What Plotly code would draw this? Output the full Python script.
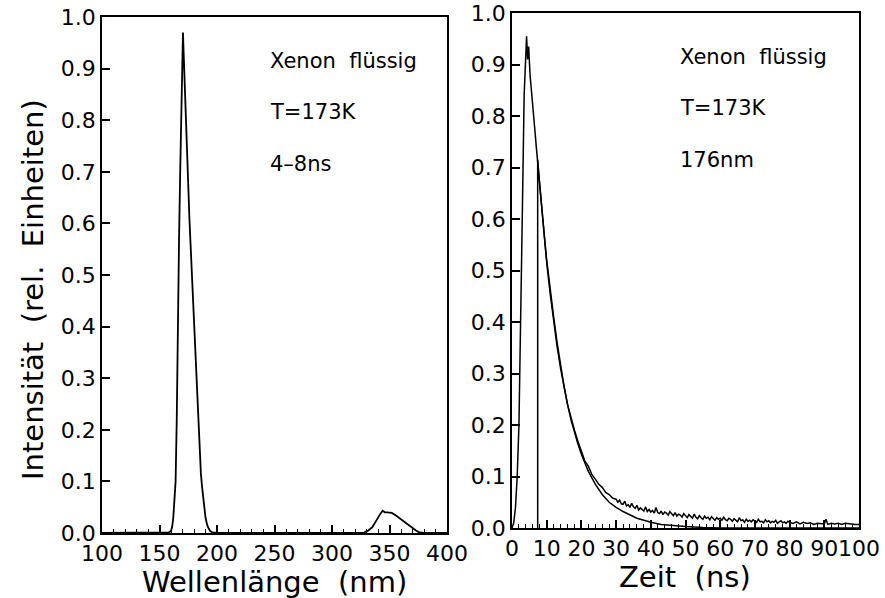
import plotly.graph_objects as go

# ---------------- data: left panel (spectrum) ----------------
wavelength = [100, 130, 155, 158, 160, 161, 162, 163, 164, 165, 166, 167, 168, 169, 170, 170.4,
              171, 172, 173, 174, 175, 176, 177, 178, 179, 180, 181, 182, 183, 184, 185, 186,
              187, 188, 189, 190, 191, 192, 194, 196, 200, 250, 300, 320, 327, 331, 335, 338,
              340, 342, 344, 345, 346, 348, 350, 352, 355, 358, 361, 364, 367, 370, 373, 376,
              380, 400]
spectrum = [0.0, 0.0, 0.0, 0.001, 0.004, 0.012, 0.03, 0.06, 0.10, 0.22, 0.43, 0.57, 0.70, 0.82, 0.95, 0.97,
            0.93, 0.86, 0.80, 0.74, 0.67, 0.61, 0.56, 0.51, 0.455, 0.40, 0.34, 0.29, 0.235, 0.19, 0.15, 0.115,
            0.09, 0.065, 0.045, 0.03, 0.02, 0.012, 0.004, 0.001, 0.0, 0.0, 0.0, 0.0, 0.0, 0.004, 0.011, 0.022,
            0.031, 0.037, 0.043, 0.042, 0.040, 0.040, 0.040, 0.039, 0.035, 0.030, 0.025, 0.019, 0.014, 0.009, 0.005, 0.001,
            0.0, 0.0]

# ---------------- data: right panel (decay) ----------------
time_data = [0, 0.5, 1, 1.5, 2, 2.5, 3, 3.5, 4, 4.2, 4.5, 4.8, 5.2, 5.5, 6, 6.5, 7, 7.5, 8, 8.5, 9, 9.5,
             10, 11, 12, 13, 14, 15, 16, 17, 18, 19, 20, 21, 22, 23, 24, 25, 26, 27, 28, 29,
             30, 30.5, 31, 31.5, 32, 32.5, 33, 33.5, 34, 34.5, 35, 35.5, 36, 36.5, 37, 37.5, 38, 38.5, 39, 39.5,
             40, 40.5, 41, 41.5, 42, 42.5, 43, 43.5, 44, 44.5, 45, 45.5, 46, 46.5, 47, 47.5, 48, 48.5, 49, 49.5,
             50, 50.5, 51, 51.5, 52, 52.5, 53, 53.5, 54, 54.5, 55, 55.5, 56, 56.5, 57, 57.5, 58, 58.5, 59, 59.5,
             60, 60.5, 61, 61.5, 62, 62.5, 63, 63.5, 64, 64.5, 65, 65.5, 66, 66.5, 67, 67.5, 68, 68.5, 69, 69.5,
             70, 70.5, 71, 71.5, 72, 72.5, 73, 73.5, 74, 74.5, 75, 75.5, 76, 76.5, 77, 77.5, 78, 78.5, 79, 79.5,
             80, 81, 82, 83, 84, 85, 86, 87, 88, 89, 90, 90.5, 91, 92, 93, 94, 95, 96, 97, 98, 99, 100]
counts = [0.0, 0.01, 0.04, 0.10, 0.20, 0.38, 0.62, 0.84, 0.92, 0.955, 0.91, 0.935, 0.88, 0.86, 0.82, 0.78, 0.74, 0.70, 0.66, 0.625, 0.59, 0.555,
          0.52, 0.46, 0.41, 0.36, 0.315, 0.275, 0.24, 0.212, 0.19, 0.168, 0.148, 0.13, 0.12, 0.104, 0.095, 0.085, 0.079, 0.069, 0.065, 0.058,
          0.056, 0.050, 0.054, 0.047, 0.046, 0.052, 0.043, 0.045, 0.040, 0.048, 0.041, 0.038, 0.044, 0.035, 0.039, 0.036, 0.033, 0.041, 0.032, 0.036,
          0.031, 0.034, 0.029, 0.040, 0.030, 0.028, 0.033, 0.026, 0.031, 0.029, 0.025, 0.032, 0.027, 0.024, 0.030, 0.023, 0.027, 0.025, 0.021, 0.028,
          0.024, 0.020, 0.026, 0.022, 0.019, 0.027, 0.021, 0.018, 0.024, 0.020, 0.017, 0.023, 0.019, 0.021, 0.016, 0.022, 0.018, 0.015, 0.020, 0.017,
          0.019, 0.015, 0.021, 0.016, 0.014, 0.019, 0.017, 0.013, 0.018, 0.015, 0.012, 0.020, 0.014, 0.016, 0.011, 0.017, 0.013, 0.015, 0.012, 0.016,
          0.014, 0.011, 0.017, 0.012, 0.013, 0.010, 0.016, 0.012, 0.014, 0.010, 0.013, 0.011, 0.015, 0.009, 0.012, 0.014, 0.010, 0.012, 0.009, 0.013,
          0.011, 0.009, 0.012, 0.008, 0.011, 0.009, 0.010, 0.007, 0.009, 0.008, 0.008, 0.017, 0.007, 0.009, 0.008, 0.009, 0.007, 0.009, 0.008, 0.008, 0.007, 0.007]

time_fit = [7.4, 7.4, 8, 9, 10, 11, 12, 13, 14, 15, 16, 17, 18, 19, 20, 22, 24, 26, 28, 30,
            32, 34, 36, 38, 40, 43, 46, 50, 55, 60, 100]
fit = [0.0, 0.715, 0.665, 0.585, 0.515, 0.455, 0.40, 0.352, 0.31, 0.272, 0.24, 0.21, 0.185, 0.163, 0.143, 0.11, 0.085, 0.065, 0.05, 0.04,
       0.032, 0.025, 0.019, 0.015, 0.011, 0.007, 0.005, 0.003, 0.001, 0.0, 0.0]

y_ticks = [0.0, 0.1, 0.2, 0.3, 0.4, 0.5, 0.6, 0.7, 0.8, 0.9, 1.0]
left_x_ticks = [100, 150, 200, 250, 300, 350, 400]
right_x_ticks = [0, 10, 20, 30, 40, 50, 60, 70, 80, 90, 100]

left_notes = ["Xenon  flüssig", "T=173K", "4\u20138ns"]
right_notes = ["Xenon  flüssig", "T=173K", "176nm"]
note_y = [0.915, 0.816, 0.715]

FONT = "DejaVu Sans"
W, H = 885, 598

fig = go.Figure()
fig.add_trace(go.Scatter(x=wavelength, y=spectrum, mode="lines", line=dict(color="black", width=1.8),
                         xaxis="x", yaxis="y", showlegend=False))
fig.add_trace(go.Scatter(x=time_data, y=counts, mode="lines", line=dict(color="black", width=1.5),
                         xaxis="x2", yaxis="y2", showlegend=False))
fig.add_trace(go.Scatter(x=time_fit, y=fit, mode="lines", line=dict(color="black", width=1.5),
                         xaxis="x2", yaxis="y2", showlegend=False))

axis_common = dict(showline=True, mirror=True, linecolor="black", linewidth=1.8,
                   ticks="inside", ticklen=8, tickwidth=1.5, tickcolor="black",
                   showgrid=False, zeroline=False, automargin=False, tickangle=0,
                   tickfont=dict(family=FONT, size=22, color="black"))

fig.update_layout(
    width=W, height=H,
    margin=dict(l=0, r=0, t=0, b=0, autoexpand=False),
    paper_bgcolor="white", plot_bgcolor="white",
    xaxis=dict(domain=[102 / W, 447 / W], range=[100, 400], tickvals=left_x_ticks,
               minor=dict(dtick=10, ticklen=4, ticks="inside", tickcolor="black", tickwidth=1.2),
               anchor="y", **axis_common),
    yaxis=dict(domain=[1 - 533 / H, 1 - 17 / H], range=[0, 1], tickvals=y_ticks, tickformat=".1f",
               anchor="x", **axis_common),
    xaxis2=dict(domain=[512 / W, 859 / W], range=[0, 100], tickvals=right_x_ticks,
                minor=dict(dtick=2, ticklen=4, ticks="inside", tickcolor="black", tickwidth=1.2),
                anchor="y2", **axis_common),
    yaxis2=dict(domain=[1 - 528 / H, 1 - 13 / H], range=[0, 1], tickvals=y_ticks, tickformat=".1f",
                anchor="x2", **axis_common),
)

anns = []
for txt, yy in zip(left_notes, note_y):
    anns.append(dict(x=244, y=yy, xref="x", yref="y", text=txt, showarrow=False,
                     xanchor="left", yanchor="middle", font=dict(family=FONT, size=21, color="black")))
for txt, yy in zip(right_notes, note_y):
    anns.append(dict(x=47.8, y=yy, xref="x2", yref="y2", text=txt, showarrow=False,
                     xanchor="left", yanchor="middle", font=dict(family=FONT, size=21, color="black")))

anns.append(dict(x=274 / W, y=1 - 582 / H, xref="paper", yref="paper", text="Wellenlänge  (nm)",
                 showarrow=False, xanchor="center", yanchor="middle",
                 font=dict(family=FONT, size=29, color="black")))
anns.append(dict(x=685 / W, y=1 - 577 / H, xref="paper", yref="paper", text="Zeit  (ns)",
                 showarrow=False, xanchor="center", yanchor="middle",
                 font=dict(family=FONT, size=29, color="black")))
anns.append(dict(x=33 / W, y=1 - 290 / H, xref="paper", yref="paper", text="Intensität  (rel.  Einheiten)",
                 showarrow=False, xanchor="center", yanchor="middle", textangle=-90,
                 font=dict(family=FONT, size=29, color="black")))
fig.update_layout(annotations=anns)

fig.write_html("out.html")
